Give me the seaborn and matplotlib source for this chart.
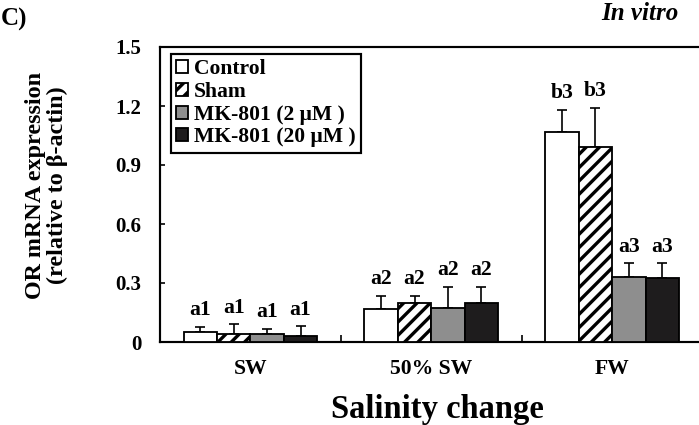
import numpy as np
import pandas as pd
import matplotlib
matplotlib.use("Agg")
import matplotlib.pyplot as plt
import seaborn as sns

# Salinity groups and treatments
salinity = ["SW", "50% SW", "FW"]
treatments = ["Control", "Sham", "MK-801 (2 μM )", "MK-801 (20 μM )"]

# Mean OR mRNA expression (relative to beta-actin), one value per salinity group
control_mean = [0.050, 0.166, 1.069]
sham_mean = [0.043, 0.197, 0.993]
mk2_mean = [0.043, 0.174, 0.332]
mk20_mean = [0.031, 0.200, 0.324]

# Upper error (SEM)
control_err = [0.028, 0.068, 0.111]
sham_err = [0.047, 0.037, 0.197]
mk2_err = [0.025, 0.107, 0.068]
mk20_err = [0.049, 0.081, 0.076]

# Significance letters
control_sig = ["a1", "a2", "b3"]
sham_sig = ["a1", "a2", "b3"]
mk2_sig = ["a1", "a2", "a3"]
mk20_sig = ["a1", "a2", "a3"]

yticks = [0, 0.3, 0.6, 0.9, 1.2, 1.5]
ytick_labels = ["0", "0.3", "0.6", "0.9", "1.2", "1.5"]

means = [control_mean, sham_mean, mk2_mean, mk20_mean]
errs = [control_err, sham_err, mk2_err, mk20_err]
sigs = [control_sig, sham_sig, mk2_sig, mk20_sig]

df = pd.DataFrame(
    {
        "salinity": [s for _ in treatments for s in salinity],
        "treatment": [t for t in treatments for _ in salinity],
        "value": [v for m in means for v in m],
    }
)

sns.set_theme(style="white")
plt.rcParams["font.family"] = ["Liberation Serif", "DejaVu Serif"]
plt.rcParams["font.weight"] = "bold"
plt.rcParams["axes.labelweight"] = "bold"
plt.rcParams["text.color"] = "black"
plt.rcParams["axes.labelcolor"] = "black"
plt.rcParams["xtick.color"] = "black"
plt.rcParams["ytick.color"] = "black"
plt.rcParams["axes.edgecolor"] = "black"
plt.rcParams["hatch.linewidth"] = 2.0
plt.rcParams["hatch.color"] = "black"

palette = {
    "Control": "#ffffff",
    "Sham": "#ffffff",
    "MK-801 (2 μM )": "#8e8e8e",
    "MK-801 (20 μM )": "#1e1c1d",
}

DPI = 120
fig = plt.figure(figsize=(699 / DPI, 425 / DPI), dpi=DPI)
ax = fig.add_axes([160 / 699, 1 - 342 / 425, 542.5 / 699, 295 / 425])

sns.barplot(
    data=df, x="salinity", y="value", hue="treatment",
    order=salinity, hue_order=treatments, palette=palette,
    width=0.74, edgecolor="black", linewidth=1.1,
    errorbar=None, legend=False, ax=ax, zorder=3,
)

# Hatch the sham bars
for patch in ax.containers[1].patches:
    patch.set_hatch("///")

# One-sided error bars and significance letters
for cont, m, e, s in zip(ax.containers, means, errs, sigs):
    xs = [p.get_x() + p.get_width() / 2 for p in cont.patches]
    ax.errorbar(xs, m, yerr=[np.zeros(len(e)), e], fmt="none",
                ecolor="black", elinewidth=1.0, capsize=3.2, capthick=1.0,
                zorder=2)
    for x, mv, ev, lab in zip(xs, m, e, s):
        ax.annotate(lab, xy=(x, mv + ev), xytext=(0, 4),
                    textcoords="offset points", ha="center", va="bottom",
                    fontsize=13, fontweight="bold")

ax.set_xlim(-0.5, 2.5)
ax.set_ylim(0, 1.5)
ax.set_yticks(yticks, ytick_labels)
ax.set_xticks([0.5, 1.5], minor=True)
ax.tick_params(axis="y", left=True, direction="in", length=3, width=1,
               pad=11, labelsize=12.5)
ax.tick_params(axis="x", which="major", bottom=True, length=0, pad=10,
               labelsize=13)
ax.tick_params(axis="x", which="minor", bottom=True, direction="in",
               length=4, width=1)

for side in ["left", "bottom", "top"]:
    ax.spines[side].set_linewidth(1.3)
    ax.spines[side].set_color("black")
ax.spines["right"].set_visible(False)

ax.set_xlabel("Salinity change", fontsize=19.5, fontweight="bold")
ax.xaxis.set_label_coords(0.512, -0.175)
ax.set_ylabel("OR mRNA expression\n(relative to β-actin)", fontsize=14.5,
              fontweight="bold", linespacing=1.05)
ax.yaxis.set_label_coords(-0.17, 0.53)

leg = ax.legend(
    handles=list(ax.containers), labels=treatments,
    loc="upper left", bbox_to_anchor=(0.02, 0.976), borderaxespad=0,
    frameon=True, fancybox=False, framealpha=1, edgecolor="black",
    prop={"size": 13, "weight": "bold"},
    handlelength=0.55, handleheight=0.55, handletextpad=0.25,
    labelspacing=0.12, borderpad=0.25,
)
leg.get_frame().set_linewidth(1.3)

fig.text(640 / 699, 1 - 13 / 425, "In vitro", ha="center", va="center",
         fontsize=15, fontstyle="italic", fontweight="bold")
fig.text(1 / 699, 1 - 19 / 425, "C)", ha="left", va="center",
         fontsize=15, fontweight="bold")

fig.savefig("out.png", dpi=DPI)
